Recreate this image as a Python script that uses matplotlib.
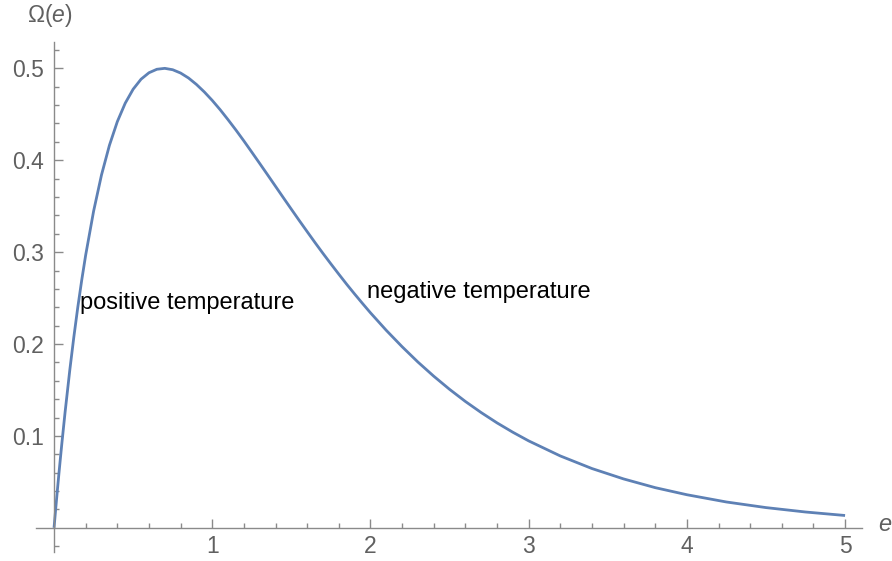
import matplotlib
matplotlib.use("Agg")
import matplotlib.pyplot as plt
from matplotlib.ticker import FixedLocator

# values
e_vals = [0.0, 0.01, 0.02, 0.03, 0.04, 0.05, 0.07, 0.1, 0.125, 0.15, 0.175, 0.2, 0.25, 0.3,
          0.35, 0.4, 0.45, 0.5, 0.55, 0.6, 0.65, 0.7, 0.75, 0.8, 0.85, 0.9, 0.95, 1.0, 1.05,
          1.1, 1.15, 1.2, 1.25, 1.3, 1.35, 1.4, 1.45, 1.5, 1.55, 1.6, 1.65, 1.7, 1.75, 1.8,
          1.85, 1.9, 1.95, 2.0, 2.1, 2.2, 2.3, 2.4, 2.5, 2.6, 2.7, 2.8, 2.9, 3.0, 3.2, 3.4,
          3.6, 3.8, 4.0, 4.25, 4.5, 4.75, 5.0]
omega_vals = [0.0, 0.0197, 0.0388, 0.0574, 0.0753, 0.0928, 0.1261, 0.1722, 0.2074, 0.2398,
              0.2695, 0.2968, 0.3445, 0.3840, 0.4162, 0.4420, 0.4621, 0.4773, 0.4882, 0.4952,
              0.4990, 0.5000, 0.4985, 0.4949, 0.4895, 0.4825, 0.4743, 0.4651, 0.4550, 0.4441,
              0.4328, 0.4210, 0.4088, 0.3965, 0.3841, 0.3716, 0.3591, 0.3467, 0.3344, 0.3223,
              0.3103, 0.2986, 0.2872, 0.2760, 0.2650, 0.2544, 0.2441, 0.2340, 0.2149, 0.1971,
              0.1804, 0.1650, 0.1507, 0.1375, 0.1254, 0.1142, 0.1040, 0.0946, 0.0782, 0.0645,
              0.0532, 0.0437, 0.0360, 0.0281, 0.0220, 0.0172, 0.0134]

x_major = [1, 2, 3, 4, 5]
y_major = [0.1, 0.2, 0.3, 0.4, 0.5]
x_tick_labels = ["1", "2", "3", "4", "5"]
y_tick_labels = ["0.1", "0.2", "0.3", "0.4", "0.5"]
annotations = [("positive temperature", 0.164, 0.2445), ("negative temperature", 1.98, 0.2565)]

plt.rcParams['font.family'] = ['Liberation Sans', 'DejaVu Sans']
plt.rcParams['mathtext.fontset'] = 'custom'
plt.rcParams['mathtext.rm'] = 'Liberation Sans'
plt.rcParams['mathtext.it'] = 'Liberation Sans:italic'
W, H = 892, 561
fig = plt.figure(figsize=(W / 100, H / 100), dpi=100)
ax = fig.add_axes([36 / W, (H - 551.7) / H, 826 / W, 510 / H])
ax.set_xlim(-0.114, 5.107)
ax.set_ylim(-0.026, 0.529)

axis_col = "#8a8a8a"
label_col = "#606060"
ax.plot(e_vals, omega_vals, color="#5E81B5", lw=2.0, solid_joinstyle="round",
        solid_capstyle="butt")

for s in ["top", "right"]:
    ax.spines[s].set_visible(False)
ax.spines["left"].set_position(("data", 0))
ax.spines["bottom"].set_position(("data", 0))
for s in ["left", "bottom"]:
    ax.spines[s].set_color(axis_col)
    ax.spines[s].set_linewidth(1.0)

ax.set_xticks(x_major)
ax.set_xticklabels(x_tick_labels)
ax.set_yticks(y_major)
ax.set_yticklabels(y_tick_labels)
xminor = [i * 0.2 for i in range(1, 26) if i % 5 != 0]
yminor = [round(-0.02 + i * 0.02, 2) for i in range(0, 28)
          if round(-0.02 + i * 0.02, 2) not in (0.0, 0.1, 0.2, 0.3, 0.4, 0.5)]
ax.xaxis.set_minor_locator(FixedLocator(xminor))
ax.yaxis.set_minor_locator(FixedLocator(yminor))
ax.tick_params(which="major", direction="in", length=6.5, width=1.0, color=axis_col,
               labelcolor=label_col, labelsize=16.5)
ax.tick_params(which="minor", direction="in", length=3.6, width=1.0, color=axis_col)
ax.tick_params(axis="x", which="major", pad=5)
ax.tick_params(axis="y", which="major", pad=7)

for txt, x, y in annotations:
    ax.text(x, y, txt, fontsize=17, color="black", va="center", ha="left")

ax.text(-0.03, 0.557, r"$\Omega(e)$", fontsize=16.5, color=label_col,
        ha="center", va="center", clip_on=False)
ax.text(5.253, 0.003, r"$e$", fontsize=17, color=label_col, ha="center", va="center",
        clip_on=False)

fig.savefig("out.png", dpi=100)
